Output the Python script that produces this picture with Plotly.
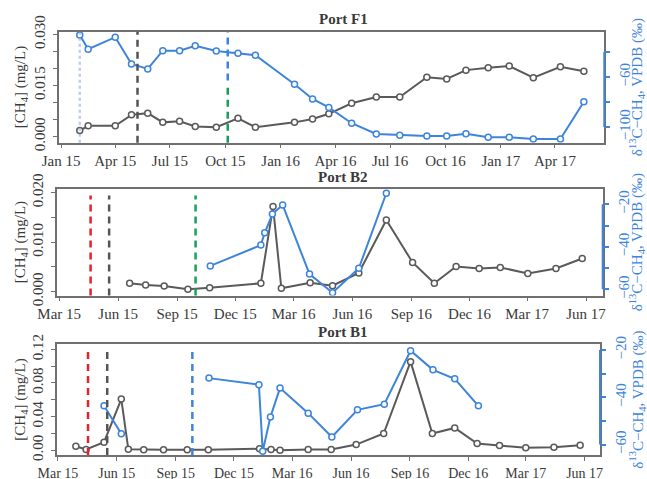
import plotly.graph_objects as go

W, H = 647, 479

# ---------------- data ----------------
f1_dates = ["2015-02-01", "2015-02-15", "2015-04-01", "2015-04-28", "2015-05-25", "2015-06-19",
            "2015-07-17", "2015-08-12", "2015-09-16", "2015-10-22", "2015-11-20", "2016-01-24",
            "2016-02-23", "2016-03-21", "2016-04-28", "2016-06-08", "2016-07-17", "2016-08-31",
            "2016-10-03", "2016-11-04", "2016-12-11", "2017-01-15", "2017-02-24", "2017-04-10",
            "2017-05-19"]
f1_ch4 = [0.0018, 0.0032, 0.0032, 0.0064, 0.0069, 0.0042, 0.0045, 0.0030, 0.0028, 0.0054,
          0.0028, 0.0042, 0.0052, 0.0067, 0.0098, 0.0116, 0.0116, 0.0174, 0.0169, 0.0195,
          0.0202, 0.0207, 0.0173, 0.0205, 0.0192]
f1_d13c = [-26.4, -37.8, -28.2, -49.6, -53.6, -39.0, -39.0, -35.0, -39.2, -41.0, -42.6, -65.8,
           -77.6, -84.4, -97.0, -105.6, -106.6, -107.2, -107.2, -105.4, -108.2, -108.2, -109.6,
           -109.6, -79.8]

b2_ch4_dates = ["2015-06-19", "2015-07-14", "2015-08-12", "2015-09-18", "2015-10-22", "2016-01-10",
                "2016-01-29", "2016-02-11", "2016-03-27", "2016-05-01", "2016-06-11", "2016-07-24",
                "2016-09-03", "2016-10-07", "2016-11-10", "2016-12-16", "2017-01-18", "2017-03-02",
                "2017-04-15", "2017-05-26"]
b2_ch4 = [0.0017, 0.00135, 0.00115, 0.0005, 0.0008, 0.0017, 0.0172, 0.0007, 0.0018, 0.0012,
          0.0038, 0.0145, 0.0059, 0.0017, 0.0051, 0.0047, 0.0049, 0.0037, 0.0047, 0.0067]
b2_d13c_dates = ["2015-10-23", "2016-01-10", "2016-01-16", "2016-01-28", "2016-02-13", "2016-03-26",
                 "2016-05-01", "2016-06-11", "2016-07-24"]
b2_d13c = [-49.0, -39.2, -33.4, -24.6, -20.3, -52.8, -61.6, -50.1, -14.8]

b1_ch4_dates = ["2015-03-29", "2015-04-14", "2015-05-12", "2015-06-08", "2015-06-19", "2015-07-13",
                "2015-08-13", "2015-09-19", "2015-10-22", "2016-01-10", "2016-01-28", "2016-02-11",
                "2016-03-26", "2016-05-01", "2016-06-09", "2016-07-22", "2016-09-02", "2016-10-06",
                "2016-11-10", "2016-12-15", "2017-01-19", "2017-03-01", "2017-04-14", "2017-05-25"]
b1_ch4 = [0.0047, 0.0008, 0.0095, 0.0608, 0.0010, 0.0005, 0.0005, 0.0005, 0.0005, 0.0017,
          0.0008, 0.0000, 0.0008, 0.0008, 0.0067, 0.0198, 0.1053, 0.0198, 0.0265, 0.0079,
          0.0056, 0.0028, 0.0036, 0.0059]
b1_d13c_dates = ["2015-05-12", "2015-06-08", "2015-08-01", "2015-10-23", "2016-01-09", "2016-01-15",
                 "2016-01-27", "2016-02-11", "2016-03-26", "2016-05-02", "2016-06-11", "2016-07-23",
                 "2016-09-02", "2016-10-07", "2016-11-10", "2016-12-17"]
b1_d13c = [-43.6, -55.4, None, -31.9, -34.7, -62.8, -48.3, -36.1, -46.7, -56.8, -45.3, -42.9,
           -20.3, -28.4, -32.2, -43.6]

f1_tick_dates = ["2015-01-01", "2015-04-01", "2015-07-01", "2015-10-01", "2016-01-01",
                 "2016-04-01", "2016-07-01", "2016-10-01", "2017-01-01", "2017-04-01"]
f1_tick_text = ["Jan 15", "Apr 15", "Jul 15", "Oct 15", "Jan 16", "Apr 16", "Jul 16",
                "Oct 16", "Jan 17", "Apr 17"]
b_tick_dates = ["2015-03-01", "2015-06-01", "2015-09-01", "2015-12-01", "2016-03-01",
                "2016-06-01", "2016-09-01", "2016-12-01", "2017-03-01", "2017-06-01"]
b_tick_text = ["Mar 15", "Jun 15", "Sep 15", "Dec 15", "Mar 16", "Jun 16", "Sep 16",
               "Dec 16", "Mar 17", "Jun 17"]

# event lines: (date, colour, y-fraction start, y-fraction end, dash)
f1_events = [("2015-02-01", "rgba(140,165,215,0.55)", 0.0, 1.0, "dot"),
             ("2015-05-08", "#555555", 0.0, 1.0, "7px,5px"),
             ("2015-10-05", "#3d84dc", 0.56, 1.0, "7px,5px"),
             ("2015-10-05", "#16a05c", 0.0, 0.52, "7px,5px")]
b2_events = [("2015-04-19", "#e8202a", 0.0, 0.94, "7px,5px"),
             ("2015-05-18", "#555555", 0.0, 0.94, "7px,5px"),
             ("2015-09-30", "#16a05c", 0.0, 0.94, "7px,5px")]
b1_events = [("2015-04-17", "#e8202a", 0.0, 0.97, "7px,5px"),
             ("2015-05-17", "#555555", 0.0, 0.97, "7px,5px"),
             ("2015-09-27", "#3d84dc", 0.0, 0.97, "7px,5px")]

BLUE = "#3d84dc"
GREY = "#5a5a5a"
FRAME = "#707070"
TXT = "#3a3a3a"
FONT = "Liberation Serif"


def dx(px):
    return px / W


def dy(py):
    return (H - py) / H


panels = [
    dict(x0=59.3, x1=604.3, top=31.7, bot=142.7, xr=["2014-12-29", "2017-06-22"],
         yl=[-0.00176, 0.03076], yr=[-112.6, -23.8], xfs=15,
         ltv=[0, 0.005, 0.010, 0.015, 0.020, 0.025, 0.030],
         ltt=["0.000", " ", " ", "0.015", " ", " ", "0.030"],
         rtv=[-100, -80, -60, -40], rtt=["\u2212100", " ", "\u221260", " "],
         tv=f1_tick_dates, tt=f1_tick_text, title="Port F1", ty=19,
         ch4=(f1_dates, f1_ch4), d13=(f1_dates, f1_d13c), ev=f1_events),
    dict(x0=57.3, x1=602.7, top=189.0, bot=295.5, xr=["2015-02-26", "2017-06-27"],
         yl=[-0.00077, 0.02075], yr=[-62.9, -12.8], xfs=15,
         ltv=[0, 0.005, 0.010, 0.015, 0.020], ltt=["0.000", " ", "0.010", " ", "0.020"],
         rtv=[-60, -50, -40, -30, -20], rtt=["\u221260", " ", "\u221240", " ", "\u221220"],
         tv=b_tick_dates, tt=b_tick_text, title="Port B2", ty=177,
         ch4=(b2_ch4_dates, b2_ch4), d13=(b2_d13c_dates, b2_d13c), ev=b2_events),
    dict(x0=57.3, x1=600.0, top=344.3, bot=455.0, xr=["2015-02-28", "2017-06-25"],
         yl=[-0.0057, 0.1259], yr=[-64.4, -17.6], xfs=14,
         ltv=[0, 0.02, 0.04, 0.06, 0.08, 0.10, 0.12],
         ltt=["0.00", " ", "0.04", " ", "0.08", " ", "0.12"],
         rtv=[-60, -50, -40, -30, -20], rtt=["\u221260", " ", "\u221240", " ", "\u221220"],
         tv=b_tick_dates, tt=b_tick_text, title="Port B1", ty=332,
         ch4=(b1_ch4_dates, b1_ch4), d13=(b1_d13c_dates, b1_d13c), ev=b1_events),
]

fig = go.Figure()
layout = dict(width=W, height=H, margin=dict(l=0, r=0, t=0, b=0, autoexpand=False),
              paper_bgcolor="white", plot_bgcolor="white", showlegend=False,
              font=dict(family=FONT, size=14, color=TXT))
shapes = []
annotations = []

for i, p in enumerate(panels):
    n = i + 1
    xa = "x" if n == 1 else f"x{n}"
    yl_name = "y" if n == 1 else f"y{2 * n - 1}"
    yr_name = f"y{2 * n}"
    xkey = "xaxis" if n == 1 else f"xaxis{n}"
    ylkey = "yaxis" if n == 1 else f"yaxis{2 * n - 1}"
    yrkey = f"yaxis{2 * n}"

    layout[xkey] = dict(domain=[dx(p["x0"]), dx(p["x1"])], anchor=yl_name, range=p["xr"],
                        type="date", tickmode="array", tickvals=p["tv"], ticktext=p["tt"],
                        ticks="outside", ticklen=4, tickwidth=1.3, tickcolor=FRAME,
                        showline=True, mirror=True, linecolor=FRAME, linewidth=1.5,
                        showgrid=False, zeroline=False, tickangle=0, automargin=False,
                        tickfont=dict(family=FONT, size=p["xfs"], color=TXT),
                        ticklabelstandoff=0)
    layout[ylkey] = dict(domain=[dy(p["bot"]), dy(p["top"])], anchor=xa, range=p["yl"],
                         tickmode="array", tickvals=p["ltv"], ticktext=p["ltt"],
                         ticks="outside", ticklen=5, tickwidth=1.3, tickcolor=FRAME,
                         showline=True, mirror=True, linecolor=FRAME, linewidth=1.5,
                         showgrid=False, zeroline=False, tickangle=-90, automargin=False,
                         tickfont=dict(family=FONT, size=15, color=TXT), ticklabelstandoff=2)
    layout[yrkey] = dict(overlaying=yl_name, side="right", anchor=xa, range=p["yr"],
                         tickmode="array", tickvals=p["rtv"], ticktext=p["rtt"],
                         ticks="outside", ticklen=5, tickwidth=1.5, tickcolor=BLUE,
                         showline=False, showgrid=False, zeroline=False, tickangle=-90,
                         automargin=False,
                         tickfont=dict(family=FONT, size=15, color=BLUE), ticklabelstandoff=2)

    # blue axis line spanning tick range
    shapes.append(dict(type="line", xref=f"{xa} domain", yref=yr_name, x0=1.0, x1=1.0,
                       y0=min(p["rtv"]), y1=max(p["rtv"]), line=dict(color=BLUE, width=2)))

    # event lines
    for d, c, f0, f1, dash in p["ev"]:
        shapes.append(dict(type="line", xref=xa, yref=f"{yl_name} domain", x0=d, x1=d,
                           y0=f0, y1=f1, line=dict(color=c, width=2.5, dash=dash), layer="above"))

    fig.add_trace(go.Scatter(x=p["ch4"][0], y=p["ch4"][1], xaxis=xa, yaxis=yl_name,
                             mode="lines+markers", connectgaps=False,
                             line=dict(color=GREY, width=2),
                             marker=dict(symbol="circle", size=6, color="white",
                                         line=dict(color=GREY, width=1.5))))
    fig.add_trace(go.Scatter(x=p["d13"][0], y=p["d13"][1], xaxis=xa, yaxis=yr_name,
                             mode="lines+markers", connectgaps=False,
                             line=dict(color=BLUE, width=2),
                             marker=dict(symbol="circle", size=6, color="white",
                                         line=dict(color=BLUE, width=1.5))))

    ymid = (p["top"] + p["bot"]) / 2
    annotations.append(dict(text=f"<b>{p['title']}</b>", xref="paper", yref="paper",
                            x=dx(343), y=dy(p["ty"]), showarrow=False,
                            xanchor="center", yanchor="middle",
                            font=dict(family=FONT, size=15, color=TXT)))
    annotations.append(dict(text="[CH<sub>4</sub>] (mg/L)", xref="paper", yref="paper",
                            x=dx(21), y=dy(ymid), textangle=-90, showarrow=False,
                            xanchor="center", yanchor="middle",
                            font=dict(family=FONT, size=15, color=TXT)))
    annotations.append(dict(text="\u03b4<sup>13</sup>C\u2212CH<sub>4</sub>, VPDB (\u2030)",
                            xref="paper", yref="paper",
                            x=dx(637), y=dy(ymid), textangle=-90, showarrow=False,
                            xanchor="center", yanchor="middle",
                            font=dict(family=FONT, size=15, color=BLUE)))

layout["shapes"] = shapes
layout["annotations"] = annotations
fig.update_layout(**layout)
fig.write_html("out.html", config={"displayModeBar": False},
               post_script="document.body.style.margin='0';document.body.style.padding='0';")
